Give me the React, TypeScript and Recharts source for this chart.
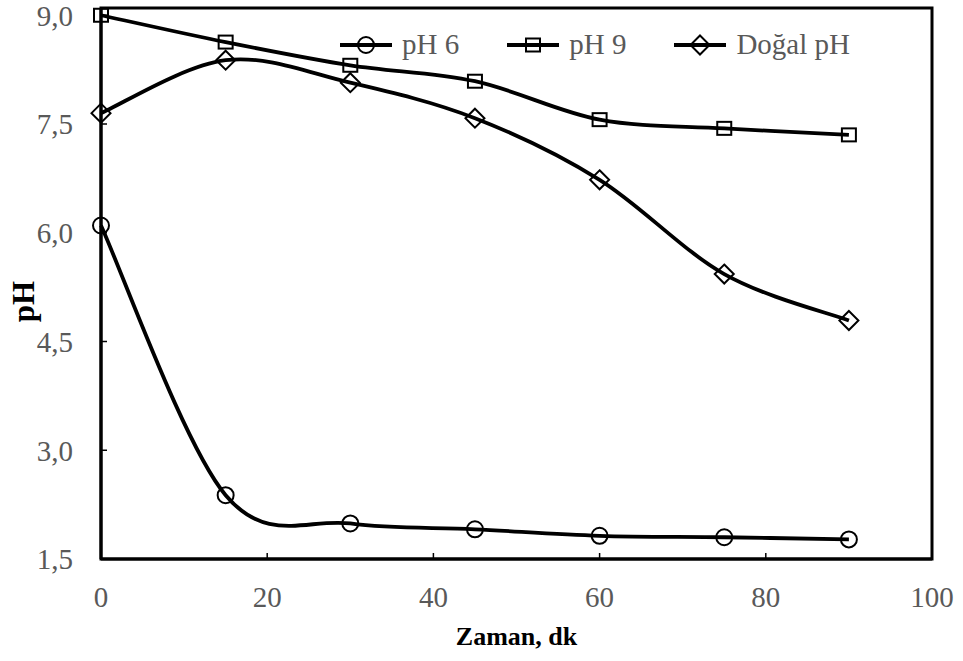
import React from 'react';
import {
  LineChart,
  Line,
  XAxis,
  YAxis,
  Legend,
  Label,
  ReferenceArea,
} from 'recharts';

// Sampling times (min) and measured pH for each starting condition
const times = [0, 15, 30, 45, 60, 75, 90];
const ph6Values = [6.1, 2.38, 1.99, 1.91, 1.82, 1.8, 1.77];
const ph9Values = [9.0, 8.63, 8.31, 8.09, 7.56, 7.44, 7.35];
const naturalValues = [7.65, 8.38, 8.07, 7.58, 6.73, 5.43, 4.79];

const seriesNames = ['pH 6', 'pH 9', 'Doğal pH'];
const xTicks = [0, 20, 40, 60, 80, 100];
const yTicks = [1.5, 3.0, 4.5, 6.0, 7.5, 9.0];

const data = times.map((t, i) => ({
  t,
  ph6: ph6Values[i],
  ph9: ph9Values[i],
  natural: naturalValues[i],
}));

const FONT = "'Liberation Serif', 'Times New Roman', Tinos, 'DejaVu Serif', serif";
const TICK_COLOR = '#595959';
const TICK_FONT = 29;
const X_MARGIN = 48;
const Y_MARGIN = 28;
const TICK_LEN = 6;
const LINE_WIDTH = 3.8;

// Smoothed line through every point (Bezier with Catmull-Rom style handles)
function smoothCurve(context: any) {
  let pts: [number, number][] = [];
  return {
    areaStart() {},
    areaEnd() {},
    lineStart() {
      pts = [];
    },
    point(x: number, y: number) {
      pts.push([+x, +y]);
    },
    lineEnd() {
      const n = pts.length;
      if (!n) return;
      context.moveTo(pts[0][0], pts[0][1]);
      const k = 1 / 6;
      for (let i = 0; i < n - 1; i++) {
        const p0 = pts[Math.max(i - 1, 0)];
        const p1 = pts[i];
        const p2 = pts[i + 1];
        const p3 = pts[Math.min(i + 2, n - 1)];
        context.bezierCurveTo(
          p1[0] + (p2[0] - p0[0]) * k,
          p1[1] + (p2[1] - p0[1]) * k,
          p2[0] - (p3[0] - p1[0]) * k,
          p2[1] - (p3[1] - p1[1]) * k,
          p2[0],
          p2[1]
        );
      }
    },
  };
}

type Shape = 'circle' | 'square' | 'diamond';

function MarkerShape({ shape, cx, cy }: { shape: Shape; cx: number; cy: number }) {
  const common = { fill: 'none', stroke: '#000', strokeWidth: 2 };
  if (shape === 'circle') return <circle cx={cx} cy={cy} r={8} {...common} />;
  if (shape === 'square')
    return <rect x={cx - 7} y={cy - 6.5} width={14} height={13} {...common} />;
  const d = 9.5;
  return (
    <polygon
      points={`${cx},${cy - d} ${cx + d},${cy} ${cx},${cy + d} ${cx - d},${cy}`}
      {...common}
    />
  );
}

const makeDot = (shape: Shape) => (props: any) => (
  <MarkerShape key={`${shape}-${props.index}`} shape={shape} cx={props.cx} cy={props.cy} />
);

const fmt = (v: number) => v.toFixed(1).replace('.', ',');

const textStyle = { fontFamily: FONT };

function XTick(props: any) {
  const { x, y, payload } = props;
  const axisY = y - X_MARGIN;
  return (
    <g>
      <line x1={x} y1={axisY} x2={x} y2={axisY - TICK_LEN} stroke="#000" strokeWidth={1.5} />
      <text x={x} y={y} textAnchor="middle" fill={TICK_COLOR} fontSize={TICK_FONT} style={textStyle}>
        {payload.value}
      </text>
    </g>
  );
}

function YTick(props: any) {
  const { x, y, payload } = props;
  const axisX = x + Y_MARGIN;
  return (
    <g>
      <line x1={axisX} y1={y} x2={axisX + TICK_LEN} y2={y} stroke="#000" strokeWidth={1.5} />
      <text
        x={x}
        y={y}
        dy="0.355em"
        textAnchor="end"
        fill={TICK_COLOR}
        fontSize={TICK_FONT}
        style={textStyle}
      >
        {fmt(payload.value)}
      </text>
    </g>
  );
}

const legendShapes: Shape[] = ['circle', 'square', 'diamond'];

function LegendContent() {
  return (
    <div style={{ display: 'flex', alignItems: 'center', fontFamily: FONT, whiteSpace: 'nowrap' }}>
      {seriesNames.map((name, i) => (
        <div key={name} style={{ display: 'flex', alignItems: 'center', marginRight: 47 }}>
          <svg width={54} height={22} style={{ display: 'block' }}>
            <line x1={1} y1={11} x2={53} y2={11} stroke="#000" strokeWidth={LINE_WIDTH} />
            <MarkerShape shape={legendShapes[i]} cx={27} cy={11} />
          </svg>
          <span style={{ marginLeft: 9, fontSize: TICK_FONT, lineHeight: 1, color: TICK_COLOR }}>
            {name}
          </span>
        </div>
      ))}
    </div>
  );
}

function YTitle(props: any) {
  const vb = props.viewBox || {};
  const cx = 23;
  const cy = vb.y + vb.height / 2 + 18;
  return (
    <text
      x={cx}
      y={cy}
      transform={`rotate(-90, ${cx}, ${cy})`}
      textAnchor="middle"
      dominantBaseline="central"
      fontWeight="bold"
      fontSize={31}
      fill="#000"
      style={textStyle}
    >
      pH
    </text>
  );
}

function XTitle(props: any) {
  const vb = props.viewBox || {};
  return (
    <text
      x={vb.x + vb.width / 2}
      y={645}
      textAnchor="middle"
      fontWeight="bold"
      fontSize={26}
      fill="#000"
      style={textStyle}
    >
      Zaman, dk
    </text>
  );
}

export default function App() {
  return (
    <div style={{ position: 'absolute', left: 0, top: 0, width: 963, height: 661, background: '#fff', fontFamily: FONT }}>
      <LineChart width={963} height={661} data={data} margin={{ top: 8, right: 31, bottom: 0, left: 0 }}>
        <XAxis
          dataKey="t"
          type="number"
          domain={[0, 100]}
          ticks={xTicks}
          interval={0}
          height={102}
          tickSize={0}
          tickMargin={X_MARGIN}
          tick={<XTick />}
          tickLine={false}
          axisLine={{ stroke: '#000', strokeWidth: 3 }}
        >
          <Label content={<XTitle />} />
        </XAxis>
        <YAxis
          type="number"
          domain={[1.5, 9.1]}
          ticks={yTicks}
          interval={0}
          width={101}
          tickSize={0}
          tickMargin={Y_MARGIN}
          tick={<YTick />}
          tickLine={false}
          axisLine={{ stroke: '#000', strokeWidth: 3 }}
        >
          <Label content={<YTitle />} />
        </YAxis>
        <ReferenceArea
          x1={0}
          x2={100}
          y1={1.5}
          y2={9.1}
          fill="none"
          stroke="#000"
          strokeWidth={3}
          ifOverflow="visible"
        />
        <Legend
          layout="vertical"
          align="center"
          verticalAlign="middle"
          content={<LegendContent />}
          wrapperStyle={{ left: 339, top: 30, width: 'auto', height: 'auto' }}
        />
        <Line
          dataKey="ph6"
          name={seriesNames[0]}
          type={smoothCurve as any}
          stroke="#000"
          strokeWidth={LINE_WIDTH}
          dot={makeDot('circle')}
          activeDot={false}
          isAnimationActive={false}
        />
        <Line
          dataKey="ph9"
          name={seriesNames[1]}
          type={smoothCurve as any}
          stroke="#000"
          strokeWidth={LINE_WIDTH}
          dot={makeDot('square')}
          activeDot={false}
          isAnimationActive={false}
        />
        <Line
          dataKey="natural"
          name={seriesNames[2]}
          type={smoothCurve as any}
          stroke="#000"
          strokeWidth={LINE_WIDTH}
          dot={makeDot('diamond')}
          activeDot={false}
          isAnimationActive={false}
        />
      </LineChart>
    </div>
  );
}
